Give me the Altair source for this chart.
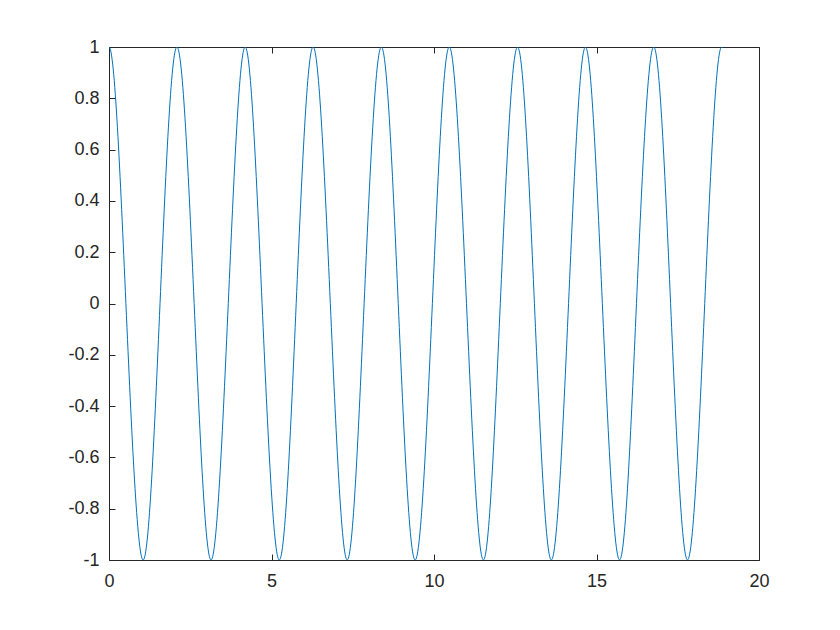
import altair as alt
import pandas as pd

# Readings from the picture: peaks, zero crossings and troughs of the curve
# (one zero crossing on either side lies just outside the plotted window and is clipped)
x_vals = [-0.52, 0.00, 0.52, 1.05, 1.57, 2.09, 2.62, 3.14, 3.67, 4.19, 4.71,
          5.24, 5.76, 6.28, 6.81, 7.33, 7.85, 8.38, 8.90, 9.42, 9.95,
          10.47, 11.00, 11.52, 12.04, 12.57, 13.09, 13.61, 14.14, 14.66, 15.18,
          15.71, 16.23, 16.76, 17.28, 17.80, 18.33, 18.85, 19.37]
y_vals = [0, 1, 0, -1, 0, 1, 0, -1, 0, 1, 0,
          -1, 0, 1, 0, -1, 0, 1, 0, -1, 0,
          1, 0, -1, 0, 1, 0, -1, 0, 1, 0,
          -1, 0, 1, 0, -1, 0, 1, 0]
x_end = 18.85  # last drawn x value

x_ticks = [0, 5, 10, 15, 20]
y_ticks = [-1, -0.8, -0.6, -0.4, -0.2, 0, 0.2, 0.4, 0.6, 0.8, 1]

df = pd.DataFrame({"x": x_vals, "y": y_vals})

FONT = "Liberation Sans"
AX = "#262626"
label_expr = "'' + round(datum.value * 10) / 10"

xs = alt.Scale(domain=[0, 20], nice=False, zero=False)
ys = alt.Scale(domain=[-1, 1], nice=False, zero=False)

main = alt.Chart(df).mark_line(color="#0072BD", strokeWidth=1, interpolate="natural", clip=True).encode(
    x=alt.X("x:Q", scale=xs, title=None,
            axis=alt.Axis(orient="bottom", values=x_ticks, ticks=False, domain=False, grid=False,
                          labelFont=FONT, labelFontSize=18, labelColor=AX, labelPadding=12,
                          labelFlush=False, labelOverlap=False, labelExpr=label_expr)),
    y=alt.Y("y:Q", scale=ys, title=None,
            axis=alt.Axis(orient="left", values=y_ticks, ticks=False, domain=False, grid=False,
                          labelFont=FONT, labelFontSize=18, labelColor=AX, labelPadding=10,
                          labelFlush=False, labelOverlap=False, labelExpr=label_expr)),
)

# white cover beyond the end of the curve (x > 18.85)
cover = alt.Chart(pd.DataFrame({"a": [x_end], "b": [20]})).mark_rect(color="white").encode(
    x=alt.X("a:Q", scale=xs, axis=None), x2="b:Q",
    y=alt.value(1), y2=alt.value(512),
)

ticks_bl = alt.Chart(df).mark_line(strokeOpacity=0).encode(
    x=alt.X("x:Q", scale=xs, title=None,
            axis=alt.Axis(orient="bottom", values=x_ticks, labels=False, domain=False, grid=False,
                          ticks=True, tickSize=6, tickColor=AX, tickWidth=1, offset=-6)),
    y=alt.Y("y:Q", scale=ys, title=None,
            axis=alt.Axis(orient="left", values=y_ticks, labels=False, domain=False, grid=False,
                          ticks=True, tickSize=6, tickColor=AX, tickWidth=1, offset=-6)),
)

ticks_tr = alt.Chart(df).mark_line(strokeOpacity=0).encode(
    x=alt.X("x:Q", scale=xs, title=None,
            axis=alt.Axis(orient="top", values=x_ticks, labels=False, domain=False, grid=False,
                          ticks=True, tickSize=6, tickColor=AX, tickWidth=1, offset=-6)),
    y=alt.Y("y:Q", scale=ys, title=None,
            axis=alt.Axis(orient="right", values=y_ticks, labels=False, domain=False, grid=False,
                          ticks=True, tickSize=6, tickColor=AX, tickWidth=1, offset=-6)),
)

chart = alt.layer(main, cover, ticks_bl, ticks_tr).resolve_axis(
    x="independent", y="independent"
).properties(
    width=650, height=513,
    padding={"left": 101, "top": 39, "right": 73, "bottom": 62},
    autosize=alt.AutoSizeParams(type="none"),
    background="white",
).configure_view(stroke=AX, strokeWidth=1).configure_axis(
    labelFont=FONT, labelFontSize=18, labelColor=AX, labelFlush=False, labelOverlap=False,
)

chart.save("out.html", embed_options={"renderer": "svg", "actions": False})
